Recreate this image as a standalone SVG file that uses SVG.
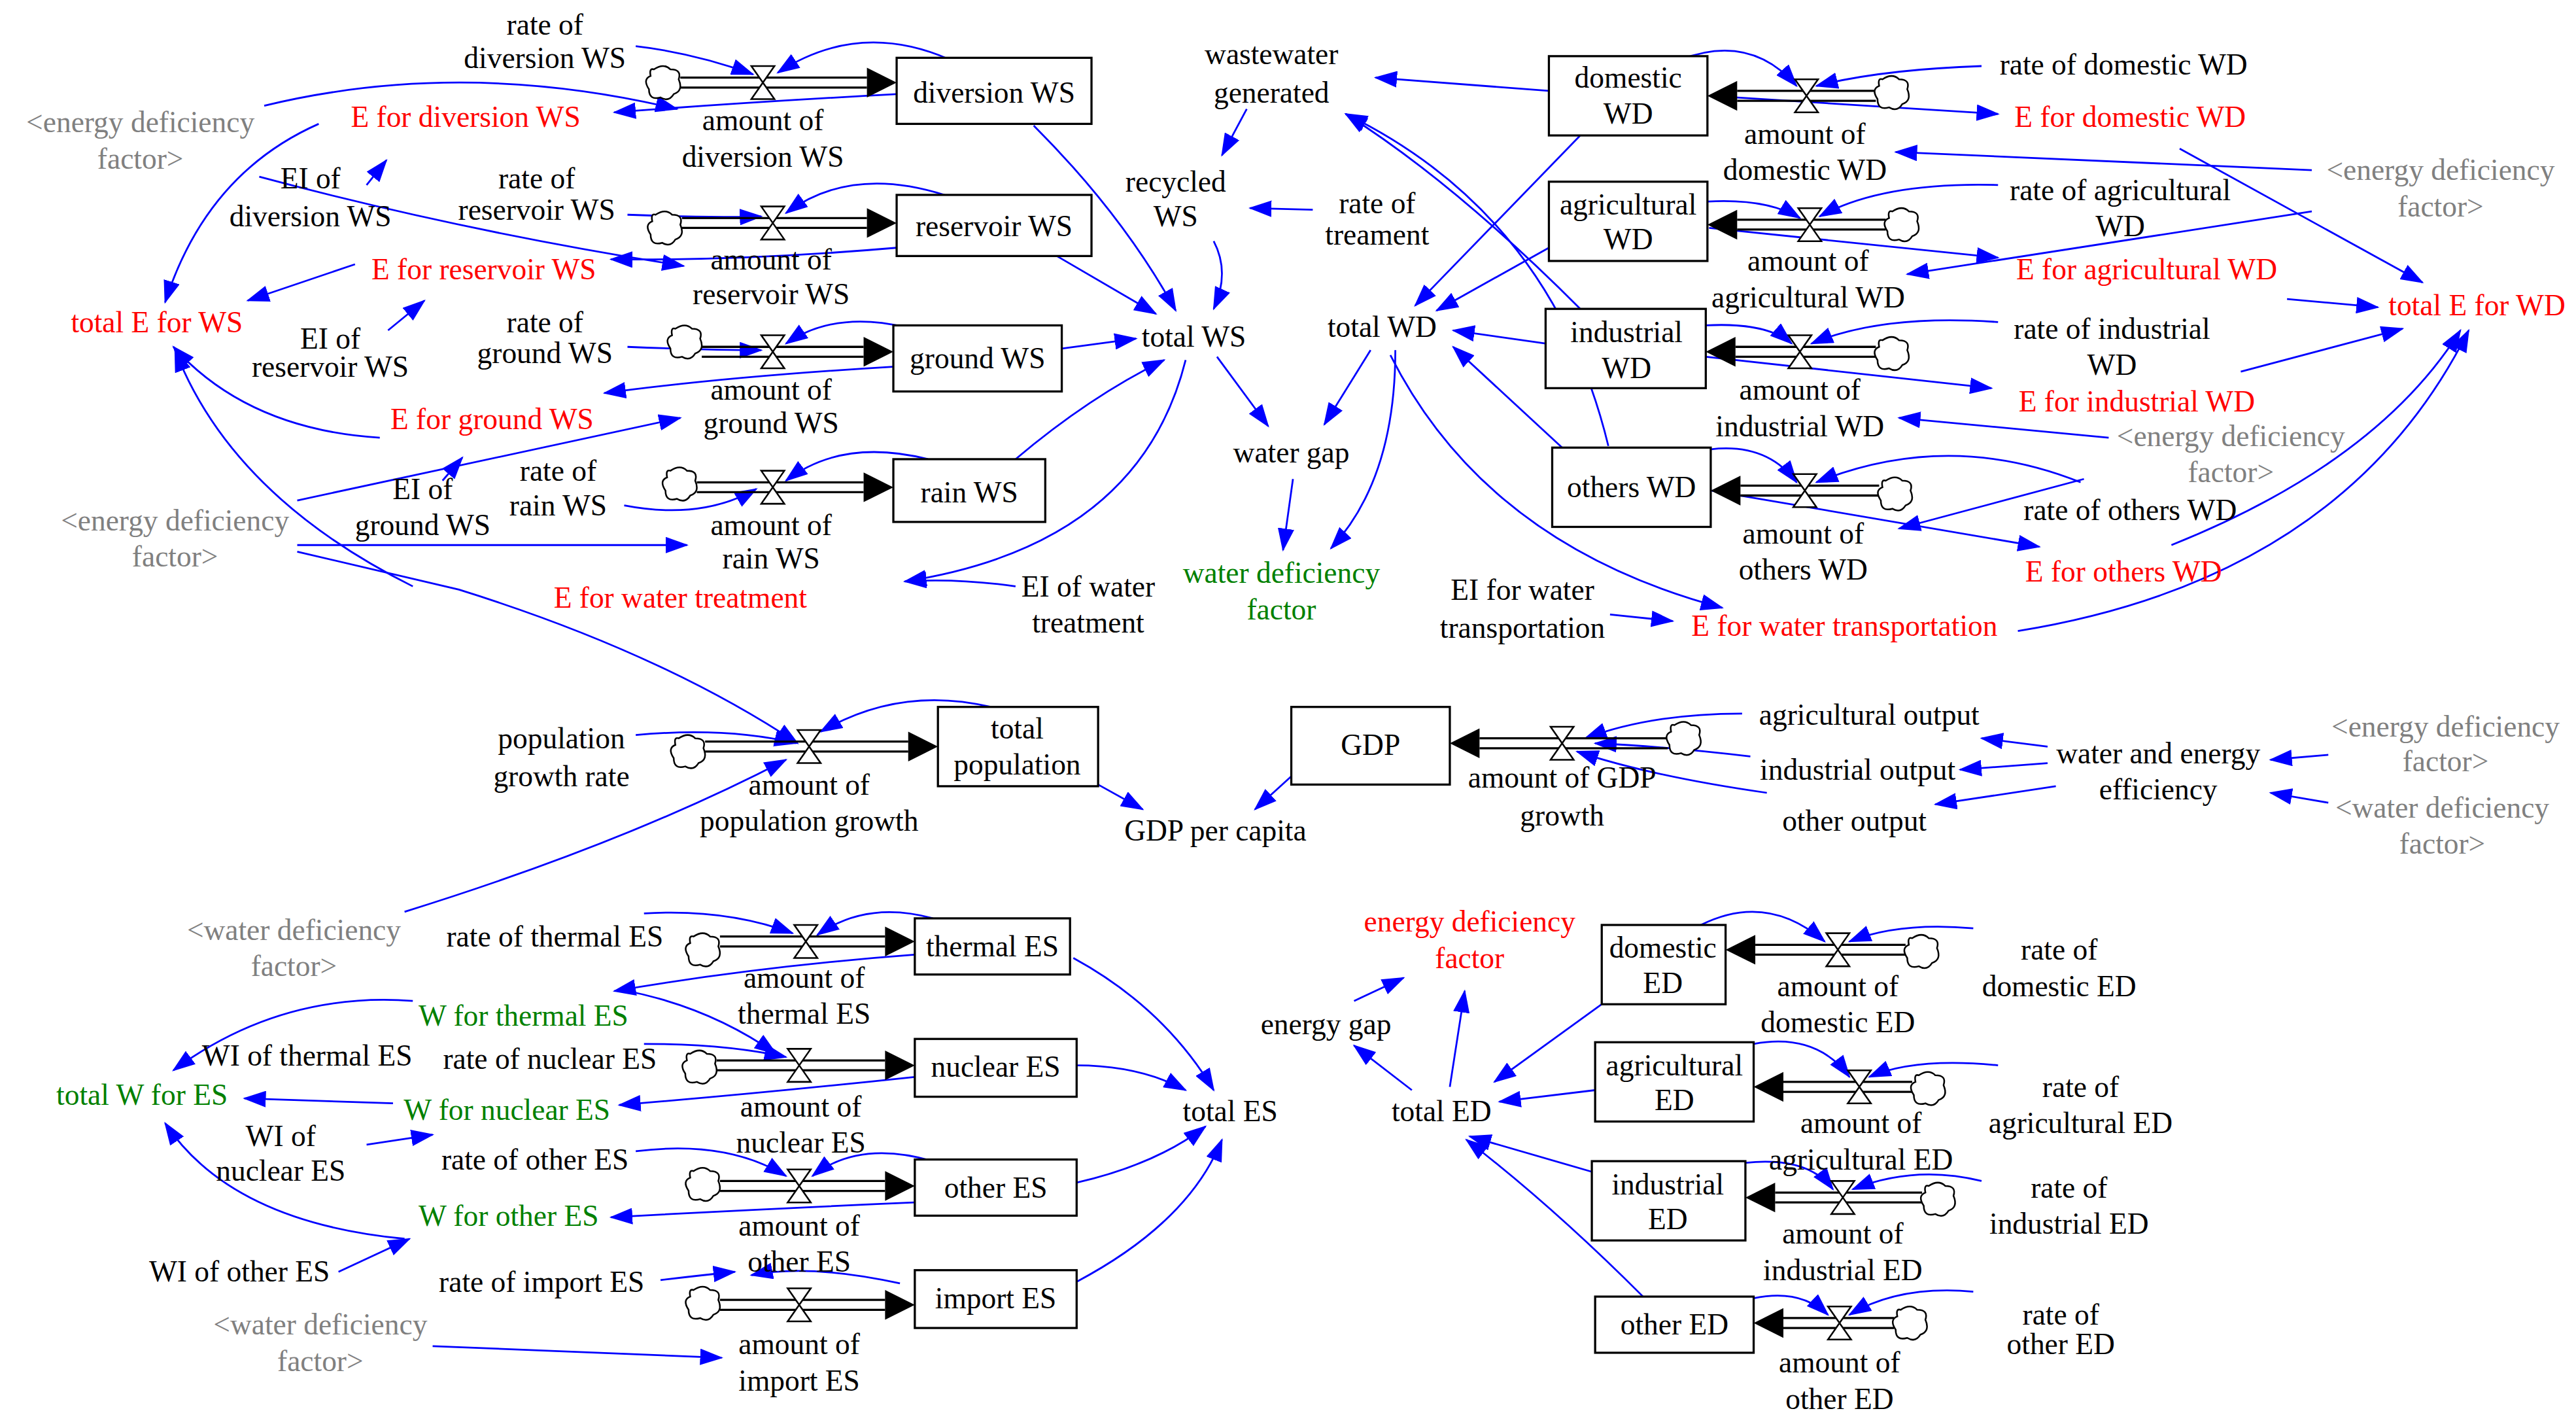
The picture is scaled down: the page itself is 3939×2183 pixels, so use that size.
<svg xmlns="http://www.w3.org/2000/svg" xmlns:xlink="http://www.w3.org/1999/xlink" width="3939" height="2183" viewBox="0 0 3939 2183">
<style>
text{font-family:"Liberation Serif","Times New Roman",serif;font-size:18px;text-anchor:middle;fill:#000}
.r{fill:#ff0000}.g{fill:#008000}.gr{fill:#808080}
.b{fill:none;stroke:#0000ff;stroke-width:1.1;marker-end:url(#ah)}
.box{fill:#fff;stroke:#000;stroke-width:1.3}
.pipe{fill:none;stroke:#000;stroke-width:1.3}
</style>
<defs>
<marker id="ah" markerUnits="userSpaceOnUse" markerWidth="14" markerHeight="10" refX="13" refY="5" orient="auto"><path d="M0,0 L14,5 L0,10 Z" fill="#0000ff"/></marker>
<g id="valve"><path d="M-7,-10 H7 L-7,10 H7 Z" fill="#fff" stroke="#000" stroke-width="1"/></g>
<g id="cloud"><path d="M-6,-8 Q0,-12 4,-8 Q11,-8 9,-2 Q12,5 6,7 Q3,12 -2,9 Q-9,11 -9,4 Q-13,-2 -8,-4 Q-9,-9 -6,-8 Z" fill="#fff" stroke="#000" stroke-width="1"/></g>
<path id="ar" d="M-18,-9 L0,0 L-18,9 Z" fill="#000"/>
<path id="al" d="M18,-9 L0,0 L18,9 Z" fill="#000"/>
</defs>
<rect width="3939" height="2183" fill="#fff"/>
<g transform="scale(2.525)">
<g id="connectors">
<!-- WS -->
<path class="b" d="M385,28 Q420,32 456,45"/>
<path class="b" d="M575,36 Q520,12 471,44"/>
<path class="b" d="M543,57 Q450,62 372,68"/>
<path class="b" d="M160,64 Q280,35 410,66"/>
<path class="b" d="M193,75 Q125,105 100,183"/>
<path class="b" d="M157,107 Q280,140 414,161"/>
<path class="b" d="M222,112 L234,97"/>
<path class="b" d="M380,130 Q430,132 461,131"/>
<path class="b" d="M572,118 Q515,100 476,129"/>
<path class="b" d="M543,150 Q450,158 370,157"/>
<path class="b" d="M215,160 L150,182"/>
<path class="b" d="M235,200 L257,182"/>
<path class="b" d="M380,210 Q430,212 461,212"/>
<path class="b" d="M548,198 Q505,188 476,208"/>
<path class="b" d="M541,222 Q440,228 366,238"/>
<path class="b" d="M230,265 Q150,260 105,210"/>
<path class="b" d="M180,303 L412,253"/>
<path class="b" d="M268,291 L280,277"/>
<path class="b" d="M378,306 Q425,315 458,296"/>
<path class="b" d="M562,278 Q510,265 476,291"/>
<path class="b" d="M180,330 L416,330"/>
<path class="b" d="M180,334 L278,357 Q400,395 483,450"/>
<path class="b" d="M250,355 Q140,300 106,212"/>
<path class="b" d="M615,355 Q580,350 548,352"/>
<path class="b" d="M718,218 Q690,330 548,352"/>
<path class="b" d="M626,76 Q680,130 712,188"/>
<path class="b" d="M640,155 L700,190"/>
<path class="b" d="M643,211 L688,205"/>
<path class="b" d="M615,278 Q660,240 705,218"/>
<path class="b" d="M755,66 L740,94"/>
<path class="b" d="M795,127 L757,126"/>
<path class="b" d="M735,146 Q745,165 735,187"/>
<path class="b" d="M737,216 L768,258"/>
<path class="b" d="M783,290 L777,333"/>
<path class="b" d="M830,212 L802,257"/>
<path class="b" d="M845,212 Q845,290 806,332"/>
<!-- WD -->
<path class="b" d="M938,55 L833,47"/>
<path class="b" d="M957,82 L857,185"/>
<path class="b" d="M938,150 L870,188"/>
<path class="b" d="M936,208 L880,200"/>
<path class="b" d="M946,271 L880,210"/>
<path class="b" d="M957,187 Q880,110 815,69"/>
<path class="b" d="M974,270 Q940,130 815,69"/>
<path class="b" d="M842,215 Q900,330 1043,368"/>
<path class="b" d="M975,372 L1013,376"/>
<path class="b" d="M1200,40 Q1140,42 1100,52"/>
<path class="b" d="M1018,36 Q1060,20 1088,52"/>
<path class="b" d="M1035,58 L1210,69"/>
<path class="b" d="M1400,103 L1148,92"/>
<path class="b" d="M1320,90 L1467,171"/>
<path class="b" d="M1210,112 Q1140,110 1102,131"/>
<path class="b" d="M1034,122 Q1070,120 1090,132"/>
<path class="b" d="M1035,138 L1210,156"/>
<path class="b" d="M1400,128 L1155,166"/>
<path class="b" d="M1385,181 L1440,186"/>
<path class="b" d="M1210,195 Q1140,190 1097,208"/>
<path class="b" d="M1033,197 Q1070,195 1085,208"/>
<path class="b" d="M1033,216 L1206,235"/>
<path class="b" d="M1357,225 L1455,199"/>
<path class="b" d="M1277,265 L1150,253"/>
<path class="b" d="M1036,272 Q1070,268 1088,292"/>
<path class="b" d="M1260,292 Q1180,260 1100,292"/>
<path class="b" d="M1036,297 L1235,331"/>
<path class="b" d="M1262,290 L1150,320"/>
<path class="b" d="M1315,330 Q1440,280 1490,200"/>
<path class="b" d="M1222,382 Q1420,350 1495,200"/>
<!-- middle -->
<path class="b" d="M385,445 Q440,440 482,450"/>
<path class="b" d="M600,428 Q545,415 497,443"/>
<path class="b" d="M665,475 L692,490"/>
<path class="b" d="M782,470 L760,490"/>
<path class="b" d="M245,552 Q380,510 476,460"/>
<path class="b" d="M1055,432 Q1000,432 960,447"/>
<path class="b" d="M1060,458 Q1010,452 966,450"/>
<path class="b" d="M1070,480 Q1000,470 955,455"/>
<path class="b" d="M1240,452 L1200,447"/>
<path class="b" d="M1240,462 L1187,466"/>
<path class="b" d="M1245,476 L1172,487"/>
<path class="b" d="M1410,457 L1375,460"/>
<path class="b" d="M1410,486 L1375,480"/>
<!-- ES -->
<path class="b" d="M390,553 Q440,550 480,565"/>
<path class="b" d="M565,556 Q525,545 495,566"/>
<path class="b" d="M554,578 Q460,585 372,600"/>
<path class="b" d="M250,606 Q170,600 105,648"/>
<path class="b" d="M380,600 Q430,610 470,638"/>
<path class="b" d="M390,632 Q440,632 476,640"/>
<path class="b" d="M554,652 Q460,662 375,669"/>
<path class="b" d="M238,668 L148,665"/>
<path class="b" d="M222,693 L262,687"/>
<path class="b" d="M385,697 Q440,690 476,712"/>
<path class="b" d="M565,703 Q520,690 492,712"/>
<path class="b" d="M554,728 Q460,732 370,737"/>
<path class="b" d="M245,750 Q140,740 100,680"/>
<path class="b" d="M205,770 L248,750"/>
<path class="b" d="M400,775 Q425,772 445,770"/>
<path class="b" d="M545,777 Q490,765 455,772"/>
<path class="b" d="M262,815 L437,822"/>
<path class="b" d="M650,580 Q705,610 735,660"/>
<path class="b" d="M652,645 Q690,645 718,660"/>
<path class="b" d="M652,716 Q700,705 730,682"/>
<path class="b" d="M652,776 Q720,740 740,690"/>
<!-- ED -->
<path class="b" d="M878,658 L887,600"/>
<path class="b" d="M820,606 L850,592"/>
<path class="b" d="M855,660 L820,633"/>
<path class="b" d="M970,608 L905,655"/>
<path class="b" d="M966,660 L908,667"/>
<path class="b" d="M966,710 L890,688"/>
<path class="b" d="M995,785 Q940,730 888,690"/>
<path class="b" d="M1030,560 Q1070,540 1105,570"/>
<path class="b" d="M1195,562 Q1150,558 1120,570"/>
<path class="b" d="M1062,632 Q1100,625 1120,652"/>
<path class="b" d="M1210,645 Q1160,640 1132,652"/>
<path class="b" d="M1057,704 Q1095,700 1110,720"/>
<path class="b" d="M1200,715 Q1160,705 1122,720"/>
<path class="b" d="M1062,786 Q1090,780 1107,796"/>
<path class="b" d="M1195,782 Q1150,778 1120,796"/>
</g>
<!-- flows (stocks) -->
<g id="flow-diversion"><path class="pipe" d="M412,47 H525 M412,53 H525"/><use xlink:href="#ar" x="543" y="50"/><use xlink:href="#cloud" x="402" y="50"/><use xlink:href="#valve" x="462" y="50"/></g>
<g id="flow-reservoir"><path class="pipe" d="M413,132 H525 M413,138 H525"/><use xlink:href="#ar" x="543" y="135"/><use xlink:href="#cloud" x="403" y="138"/><use xlink:href="#valve" x="468" y="135"/></g>
<g id="flow-ground"><path class="pipe" d="M425,210 H523 M425,216 H523"/><use xlink:href="#ar" x="541" y="213"/><use xlink:href="#cloud" x="415" y="207"/><use xlink:href="#valve" x="468" y="213"/></g>
<g id="flow-rain"><path class="pipe" d="M422,292 H523 M422,298 H523"/><use xlink:href="#ar" x="541" y="295"/><use xlink:href="#cloud" x="412" y="293"/><use xlink:href="#valve" x="468" y="295"/></g>
<g id="flow-domWD"><path class="pipe" d="M1052,55 H1136 M1052,61 H1136"/><use xlink:href="#al" x="1034" y="58"/><use xlink:href="#cloud" x="1146" y="56"/><use xlink:href="#valve" x="1094" y="58"/></g>
<g id="flow-agrWD"><path class="pipe" d="M1052,133 H1142 M1052,139 H1142"/><use xlink:href="#al" x="1034" y="136"/><use xlink:href="#cloud" x="1152" y="136"/><use xlink:href="#valve" x="1096" y="136"/></g>
<g id="flow-indWD"><path class="pipe" d="M1051,210 H1136 M1051,216 H1136"/><use xlink:href="#al" x="1033" y="213"/><use xlink:href="#cloud" x="1146" y="214"/><use xlink:href="#valve" x="1090" y="213"/></g>
<g id="flow-othWD"><path class="pipe" d="M1054,294 H1138 M1054,300 H1138"/><use xlink:href="#al" x="1036" y="297"/><use xlink:href="#cloud" x="1148" y="299"/><use xlink:href="#valve" x="1093" y="297"/></g>
<g id="flow-pop"><path class="pipe" d="M427,449 H550 M427,455 H550"/><use xlink:href="#ar" x="568" y="452"/><use xlink:href="#cloud" x="417" y="455"/><use xlink:href="#valve" x="490" y="452"/></g>
<g id="flow-gdp"><path class="pipe" d="M896,447 H1010 M896,453 H1010"/><use xlink:href="#al" x="878" y="450"/><use xlink:href="#cloud" x="1020" y="447"/><use xlink:href="#valve" x="946" y="450"/></g>
<g id="flow-thermal"><path class="pipe" d="M436,567 H536 M436,573 H536"/><use xlink:href="#ar" x="554" y="570"/><use xlink:href="#cloud" x="426" y="575"/><use xlink:href="#valve" x="488" y="570"/></g>
<g id="flow-nuclear"><path class="pipe" d="M434,642 H536 M434,648 H536"/><use xlink:href="#ar" x="554" y="645"/><use xlink:href="#cloud" x="424" y="646"/><use xlink:href="#valve" x="484" y="645"/></g>
<g id="flow-other"><path class="pipe" d="M436,715 H536 M436,721 H536"/><use xlink:href="#ar" x="554" y="718"/><use xlink:href="#cloud" x="426" y="717"/><use xlink:href="#valve" x="484" y="718"/></g>
<g id="flow-import"><path class="pipe" d="M436,787 H536 M436,793 H536"/><use xlink:href="#ar" x="554" y="790"/><use xlink:href="#cloud" x="426" y="789"/><use xlink:href="#valve" x="484" y="790"/></g>
<g id="flow-domED"><path class="pipe" d="M1063,572 H1154 M1063,578 H1154"/><use xlink:href="#al" x="1045" y="575"/><use xlink:href="#cloud" x="1164" y="576"/><use xlink:href="#valve" x="1113" y="575"/></g>
<g id="flow-agrED"><path class="pipe" d="M1080,655 H1158 M1080,661 H1158"/><use xlink:href="#al" x="1062" y="658"/><use xlink:href="#cloud" x="1168" y="659"/><use xlink:href="#valve" x="1126" y="658"/></g>
<g id="flow-indED"><path class="pipe" d="M1075,722 H1164 M1075,728 H1164"/><use xlink:href="#al" x="1057" y="725"/><use xlink:href="#cloud" x="1174" y="726"/><use xlink:href="#valve" x="1116" y="725"/></g>
<g id="flow-othED"><path class="pipe" d="M1080,798 H1147 M1080,804 H1147"/><use xlink:href="#al" x="1062" y="801"/><use xlink:href="#cloud" x="1157" y="801"/><use xlink:href="#valve" x="1114" y="801"/></g>
<!-- stocks -->
<g id="diversionWS"><rect class="box" x="543" y="35" width="118" height="40"/><text x="602" y="62">diversion WS</text></g>
<g id="reservoirWS"><rect class="box" x="543" y="118" width="118" height="37"/><text x="602" y="143">reservoir WS</text></g>
<g id="groundWS"><rect class="box" x="541" y="197" width="102" height="40"/><text x="592" y="223">ground WS</text></g>
<g id="rainWS"><rect class="box" x="541" y="278" width="92" height="38"/><text x="587" y="304">rain WS</text></g>
<g id="domesticWD"><rect class="box" x="938" y="34" width="96" height="48"/><text x="986" y="53">domestic</text><text x="986" y="75">WD</text></g>
<g id="agriculturalWD"><rect class="box" x="938" y="110" width="96" height="48"/><text x="986" y="130">agricultural</text><text x="986" y="151">WD</text></g>
<g id="industrialWD"><rect class="box" x="936" y="187" width="97" height="48"/><text x="985" y="207">industrial</text><text x="985" y="229">WD</text></g>
<g id="othersWD"><rect class="box" x="940" y="271" width="96" height="48"/><text x="988" y="301">others WD</text></g>
<g id="totalPopulation"><rect class="box" x="568" y="428" width="97" height="48"/><text x="616" y="447">total</text><text x="616" y="469">population</text></g>
<g id="GDP"><rect class="box" x="782" y="428" width="96" height="47"/><text x="830" y="457">GDP</text></g>
<g id="thermalES"><rect class="box" x="554" y="556" width="94" height="34"/><text x="601" y="579">thermal ES</text></g>
<g id="nuclearES"><rect class="box" x="554" y="629" width="98" height="35"/><text x="603" y="652">nuclear ES</text></g>
<g id="otherES"><rect class="box" x="554" y="702" width="98" height="34"/><text x="603" y="725">other ES</text></g>
<g id="importES"><rect class="box" x="554" y="769" width="98" height="35"/><text x="603" y="792">import ES</text></g>
<g id="domesticED"><rect class="box" x="970" y="560" width="75" height="48"/><text x="1007" y="580">domestic</text><text x="1007" y="601">ED</text></g>
<g id="agriculturalED"><rect class="box" x="966" y="631" width="96" height="48"/><text x="1014" y="651">agricultural</text><text x="1014" y="672">ED</text></g>
<g id="industrialED"><rect class="box" x="964" y="703" width="93" height="48"/><text x="1010" y="723">industrial</text><text x="1010" y="744">ED</text></g>
<g id="otherED"><rect class="box" x="966" y="785" width="96" height="34"/><text x="1014" y="808">other ED</text></g>
<!-- variables -->
<g id="labels">
<text x="330" y="21">rate of</text><text x="330" y="41">diversion WS</text>
<text x="462" y="79">amount of</text><text x="462" y="101">diversion WS</text>
<text class="gr" x="85" y="80">&lt;energy deficiency</text><text class="gr" x="85" y="102">factor&gt;</text>
<text class="r" x="282" y="77">E for diversion WS</text>
<text x="188" y="114">EI of</text><text x="188" y="137">diversion WS</text>
<text x="325" y="114">rate of</text><text x="325" y="133">reservoir WS</text>
<text x="467" y="163">amount of</text><text x="467" y="184">reservoir WS</text>
<text class="r" x="293" y="169">E for reservoir WS</text>
<text class="r" x="95" y="201">total E for WS</text>
<text x="200" y="211">EI of</text><text x="200" y="228">reservoir WS</text>
<text x="330" y="201">rate of</text><text x="330" y="220">ground WS</text>
<text x="467" y="242">amount of</text><text x="467" y="262">ground WS</text>
<text class="r" x="298" y="260">E for ground WS</text>
<text x="338" y="291">rate of</text><text x="338" y="312">rain WS</text>
<text x="256" y="302">EI of</text><text x="256" y="324">ground WS</text>
<text class="gr" x="106" y="321">&lt;energy deficiency</text><text class="gr" x="106" y="343">factor&gt;</text>
<text x="467" y="324">amount of</text><text x="467" y="344">rain WS</text>
<text class="r" x="412" y="368">E for water treatment</text>
<text x="659" y="361">EI of water</text><text x="659" y="383">treatment</text>
<text x="770" y="39">wastewater</text><text x="770" y="62">generated</text>
<text x="712" y="116">recycled</text><text x="712" y="137">WS</text>
<text x="834" y="129">rate of</text><text x="834" y="148">treament</text>
<text x="723" y="210">total WS</text>
<text x="782" y="280">water gap</text>
<text class="g" x="776" y="353">water deficiency</text><text class="g" x="776" y="375">factor</text>
<text x="837" y="204">total WD</text>
<text x="1286" y="45">rate of domestic WD</text>
<text class="r" x="1290" y="77">E for domestic WD</text>
<text x="1093" y="87">amount of</text><text x="1093" y="109">domestic WD</text>
<text x="1284" y="121">rate of agricultural</text><text x="1284" y="143">WD</text>
<text class="r" x="1300" y="169">E for agricultural WD</text>
<text x="1095" y="164">amount of</text><text x="1095" y="186">agricultural WD</text>
<text class="gr" x="1478" y="109">&lt;energy deficiency</text><text class="gr" x="1478" y="131">factor&gt;</text>
<text class="r" x="1500" y="191">total E for WD</text>
<text x="1279" y="205">rate of industrial</text><text x="1279" y="227">WD</text>
<text class="r" x="1294" y="249">E for industrial WD</text>
<text x="1090" y="242">amount of</text><text x="1090" y="264">industrial WD</text>
<text class="gr" x="1351" y="270">&lt;energy deficiency</text><text class="gr" x="1351" y="292">factor&gt;</text>
<text x="1290" y="315">rate of others WD</text>
<text x="1092" y="329">amount of</text><text x="1092" y="351">others WD</text>
<text class="r" x="1286" y="352">E for others WD</text>
<text x="922" y="363">EI for water</text><text x="922" y="386">transportation</text>
<text class="r" x="1117" y="385">E for water transportation</text>
<text x="340" y="453">population</text><text x="340" y="476">growth rate</text>
<text x="490" y="481">amount of</text><text x="490" y="503">population growth</text>
<text x="736" y="509">GDP per capita</text>
<text x="946" y="477">amount of GDP</text><text x="946" y="500">growth</text>
<text x="1132" y="439">agricultural output</text>
<text x="1125" y="472">industrial output</text>
<text x="1123" y="503">other output</text>
<text x="1307" y="462">water and energy</text><text x="1307" y="484">efficiency</text>
<text class="gr" x="1481" y="446">&lt;energy deficiency</text><text class="gr" x="1481" y="467">factor&gt;</text>
<text class="gr" x="1479" y="495">&lt;water deficiency</text><text class="gr" x="1479" y="517">factor&gt;</text>
<text class="gr" x="178" y="569">&lt;water deficiency</text><text class="gr" x="178" y="591">factor&gt;</text>
<text x="336" y="573">rate of thermal ES</text>
<text x="487" y="598">amount of</text><text x="487" y="620">thermal ES</text>
<text class="g" x="317" y="621">W for thermal ES</text>
<text x="186" y="645">WI of thermal ES</text>
<text x="333" y="647">rate of nuclear ES</text>
<text x="485" y="676">amount of</text><text x="485" y="698">nuclear ES</text>
<text class="g" x="86" y="669">total W for ES</text>
<text class="g" x="307" y="678">W for nuclear ES</text>
<text x="170" y="694">WI of</text><text x="170" y="715">nuclear ES</text>
<text x="324" y="708">rate of other ES</text>
<text x="484" y="748">amount of</text><text x="484" y="770">other ES</text>
<text class="g" x="308" y="742">W for other ES</text>
<text x="145" y="776">WI of other ES</text>
<text x="328" y="782">rate of import ES</text>
<text class="gr" x="194" y="808">&lt;water deficiency</text><text class="gr" x="194" y="830">factor&gt;</text>
<text x="484" y="820">amount of</text><text x="484" y="842">import ES</text>
<text x="745" y="679">total ES</text>
<text class="r" x="890" y="564">energy deficiency</text><text class="r" x="890" y="586">factor</text>
<text x="803" y="626">energy gap</text>
<text x="873" y="679">total ED</text>
<text x="1247" y="581">rate of</text><text x="1247" y="603">domestic ED</text>
<text x="1113" y="603">amount of</text><text x="1113" y="625">domestic ED</text>
<text x="1260" y="664">rate of</text><text x="1260" y="686">agricultural ED</text>
<text x="1127" y="686">amount of</text><text x="1127" y="708">agricultural ED</text>
<text x="1253" y="725">rate of</text><text x="1253" y="747">industrial ED</text>
<text x="1116" y="753">amount of</text><text x="1116" y="775">industrial ED</text>
<text x="1248" y="802">rate of</text><text x="1248" y="820">other ED</text>
<text x="1114" y="831">amount of</text><text x="1114" y="853">other ED</text>
</g>
</g>
</svg>
